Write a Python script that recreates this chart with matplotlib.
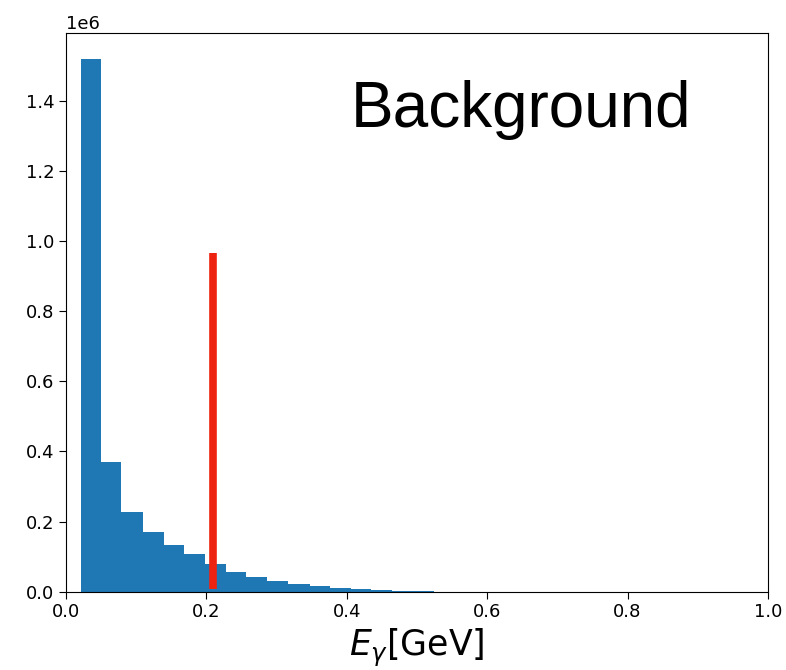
import numpy as np
import matplotlib
matplotlib.use("Agg")
import matplotlib.pyplot as plt

# histogram
bin_edges = [0.021, 0.050, 0.079, 0.109, 0.139, 0.168, 0.198, 0.228, 0.257, 0.287,
             0.316, 0.347, 0.376, 0.406, 0.435, 0.465, 0.495, 0.524]
counts = [1.519e6, 0.371e6, 0.226e6, 0.171e6, 0.134e6, 0.106e6, 0.079e6, 0.057e6,
          0.042e6, 0.029e6, 0.021e6, 0.0154e6, 0.0097e6, 0.0069e6, 0.005e6, 0.003e6, 0.002e6]

# red cut line
cut_x = 0.209
cut_top = 0.967e6

fig = plt.figure(figsize=(7.86, 6.70), dpi=100)
ax = fig.add_axes([0.084, 0.117, 0.893, 0.834])

ax.stairs(counts, bin_edges, fill=True, color="#1f77b4")
ax.vlines(cut_x, 0.008e6, cut_top, color="#ee2211", linewidth=5.5)

ax.set_xlim(0, 1.0)
ax.set_ylim(0, 1.595e6)
ax.tick_params(labelsize=13, length=5)
ax.yaxis.get_offset_text().set_fontsize(13)
ax.set_xlabel(r"$E_\gamma$[GeV]", fontsize=25, labelpad=4)

ax.text(0.648, 0.862, "Background", transform=ax.transAxes, fontsize=46,
        family="Liberation Sans", ha="center", va="center")

fig.savefig("out.png", dpi=100)
